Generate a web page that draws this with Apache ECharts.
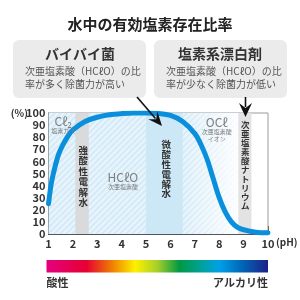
<!DOCTYPE html>
<html><head><meta charset="utf-8">
<script src="https://cdn.jsdelivr.net/npm/echarts@6/dist/echarts.min.js"></script>
<style>html,body{margin:0;padding:0;background:#fff}#c{width:300px;height:300px}</style>
</head><body><div id="c"></div>
<script>
// ---- data ----
const phValues = [1,1.1,1.2,1.4,1.6,1.8,2,2.5,3,3.5,4,4.5,5,5.5,6,6.5,7,7.25,7.5,7.75,8,8.25,8.5,8.75,9,9.5,10];
const hcloRatio = [25,40,50,65,74,81,86,93,96.5,98.5,99.5,100,100,99.5,98,93,83,74,62,46,30,18,10,5.5,3.5,1.5,1];
const xTicks = [1,2,3,4,5,6,7,8,9,10];
const yTicks = [0,10,20,30,40,50,60,70,80,90,100];
const hatchRange = [1, 6.5, 9];           // full hatch to 6.5, fades out by 9
const strongAcidBand = [2.1, 2.65];
const weakAcidBand = [5.0, 6.5];
const sodiumBand = [8.78, 9.32];
const title = '水中の有効塩素存在比率';
const leftBox = ['バイバイ菌', '次亜塩素酸（HCℓO）の比', '率が多く除菌力が高い'];
const rightBox = ['塩素系漂白剤', '次亜塩素酸（HCℓO）の比', '率が少なく除菌力が低い'];
const speciesLabels = [
  {main:'Cℓ₂', sub:['塩素ガス'], ph:1.6, pct:93},
  {main:'HCℓO', sub:['次亜塩素酸'], ph:4.05, pct:47},
  {main:'OCℓ', sub:['次亜塩素酸','イオン'], ph:7.9, pct:92}
];
const verticalLabels = [
  {text:'強酸性電解水', ph:2.42, pct:73.5},
  {text:'微酸性電解水', ph:5.83, pct:77.7},
  {text:'次亜塩素酸ナトリウム', ph:9.07, pct:94.2}
];
const verticalFont = [[9.5, 10.5], [9.5, 9.8], [8.5, 9]];
const scaleEnds = ['酸性', 'アルカリ性'];

const FONT = '"Noto Sans CJK JP", "Noto Sans", sans-serif';

function makeHatch(){
  const c=document.createElement('canvas'); c.width=6; c.height=6;
  const g=c.getContext('2d');
  g.fillStyle='#e8f4fb'; g.fillRect(0,0,6,6);
  g.strokeStyle='#d2e9f7'; g.lineWidth=1.7; g.beginPath();
  g.moveTo(-1,7); g.lineTo(7,-1);
  g.moveTo(-1,1); g.lineTo(1,-1);
  g.moveTo(5,7); g.lineTo(7,5);
  g.stroke(); return c;
}
const hatch = makeHatch();

const chart = echarts.init(document.getElementById('c'), null, {renderer:'canvas'});
const lineData = phValues.map((p,i)=>[p, hcloRatio[i]]);

chart.setOption({
  animation:false,
  textStyle:{fontFamily:FONT},
  grid:{left:48.5, right:32, top:113, bottom:66, show:true, borderColor:'#9a9a9a', borderWidth:1, backgroundColor:'transparent'},
  xAxis:{type:'value', min:1, max:10, interval:1,
    axisLine:{show:true, lineStyle:{color:'#555', width:1}},
    axisTick:{show:true, inside:true, length:8, lineStyle:{color:'#666', width:1}},
    splitLine:{show:false},
    axisLabel:{color:'#333', fontSize:11, fontWeight:'bold', margin:4, fontFamily:FONT,
      customValues: xTicks, showMinLabel:true, showMaxLabel:true}
  },
  yAxis:{type:'value', min:0, max:100, interval:10,
    axisLine:{show:true, lineStyle:{color:'#555', width:1}},
    axisTick:{show:false}, splitLine:{show:false},
    axisLabel:{color:'#333', fontSize:11, fontWeight:'bold', margin:3, fontFamily:FONT}
  },
  series:[
    {type:'line', data:[], z:1, silent:true,
      markArea:{silent:true, itemStyle:{color:{image:hatch, repeat:'repeat'}},
        data:[[{xAxis:hatchRange[0], yAxis:0},{xAxis:hatchRange[2], yAxis:100}]]}},
    {type:'line', data:[], z:2, silent:true,
      markArea:{silent:true,
        itemStyle:{color:{type:'linear',x:0,y:0,x2:1,y2:0,colorStops:[{offset:0,color:'rgba(255,255,255,0)'},{offset:1,color:'rgba(255,255,255,1)'}]}},
        data:[[{xAxis:hatchRange[1], yAxis:0},{xAxis:hatchRange[2], yAxis:100}]]}},
    {type:'line', data:[], z:3, silent:true,
      markArea:{silent:true,
        data:[
          [{xAxis:strongAcidBand[0], yAxis:0, itemStyle:{color:'#d9dadc'}},{xAxis:strongAcidBand[1], yAxis:100}],
          [{xAxis:weakAcidBand[0], yAxis:0, itemStyle:{color:'#cce8f7'}},{xAxis:weakAcidBand[1], yAxis:100}],
          [{xAxis:sodiumBand[0], yAxis:0, itemStyle:{color:'#e3e3e3'}},{xAxis:sodiumBand[1], yAxis:100}]
        ]}},
    {type:'line', data:lineData, z:10, smooth:0.35, symbol:'none', silent:true,
      lineStyle:{color:'#0a8fdc', width:5, cap:'round', join:'round'}}
  ]
});

// ---- annotations ----
const g = [];
g.push({type:'text', left:'center', top:17, style:{text:title, font:'bold 15px '+FONT, fill:'#222'}});
function box(x, y, w, h, lines, titleCx){
  g.push({type:'rect', shape:{x:x, y:y, width:w, height:h, r:6}, style:{fill:'#ebebeb'}});
  g.push({type:'text', x:titleCx, y:y+7, style:{text:lines[0], font:'bold 14px '+FONT, fill:'#333', align:'center'}});
  g.push({type:'text', x:x+12, y:y+25, style:{text:lines[1]+'\n'+lines[2], font:'10px '+FONT, fill:'#555', lineHeight:13}});
}
box(13, 40, 133, 58, leftBox, 80);
box(154, 40, 133, 58, rightBox, 220);

speciesLabels.forEach(l=>{
  const p = chart.convertToPixel({gridIndex:0}, [l.ph, l.pct]);
  g.push({type:'text', x:p[0], y:p[1], z:20, style:{text:l.main, font:'12px '+FONT, fill:'#7d7d7d', align:'center', verticalAlign:'middle'}});
  g.push({type:'text', x:p[0], y:p[1]+6, z:20, style:{text:l.sub.join('\n'), font:'6px '+FONT, fill:'#7d7d7d', align:'center', verticalAlign:'top', lineHeight:7}});
});
verticalLabels.forEach((l,i)=>{
  const p = chart.convertToPixel({gridIndex:0}, [l.ph, l.pct]);
  const f = verticalFont[i];
  g.push({type:'text', x:p[0], y:p[1], z:20, style:{text:l.text.split('').join('\n'), font:'bold '+f[0]+'px '+FONT, fill:'#333', align:'center', verticalAlign:'top', lineHeight:f[1]}});
});

// axis unit labels
const top100 = chart.convertToPixel({gridIndex:0}, [1, 100]);
const end10 = chart.convertToPixel({gridIndex:0}, [10, 0]);
g.push({type:'text', x:28, y:top100[1], style:{text:'(%)', font:'bold 10px '+FONT, fill:'#333', align:'right', verticalAlign:'middle'}});
g.push({type:'text', x:end10[0]+8, y:end10[1]+8, style:{text:'(pH)', font:'bold 10px '+FONT, fill:'#333', align:'left', verticalAlign:'middle'}});

// arrows
function arrow(x1,y1,x2,y2,hl,hw){
  const dx=x2-x1, dy=y2-y1, L=Math.hypot(dx,dy), ux=dx/L, uy=dy/L;
  const bx=x2-ux*hl, by=y2-uy*hl;
  g.push({type:'line', z:30, shape:{x1:x1,y1:y1,x2:bx+ux*2,y2:by+uy*2}, style:{stroke:'#111', lineWidth:1.6}});
  g.push({type:'polygon', z:30, shape:{points:[[x2,y2],[bx-uy*hw+ux*(-2),by+ux*hw+uy*(-2)],[bx+ux*3,by+uy*3],[bx+uy*hw-ux*2,by-ux*hw-uy*2]]}, style:{fill:'#111'}});
}
arrow(137, 97, 162, 126, 12, 6);
arrow(245.5, 97, 245.5, 117, 12, 6.5);

// pH colour scale
g.push({type:'rect', shape:{x:46.5, y:260, width:221.5, height:12.5}, style:{fill:{type:'linear',x:0,y:0,x2:1,y2:0,colorStops:[
  {offset:0,color:'#e4007f'},{offset:0.18,color:'#e60033'},{offset:0.3,color:'#f08300'},{offset:0.4,color:'#fff000'},
  {offset:0.5,color:'#a6cf2a'},{offset:0.6,color:'#009944'},{offset:0.7,color:'#00a29a'},{offset:0.78,color:'#00a0e9'},
  {offset:0.88,color:'#0068b7'},{offset:1,color:'#1d2088'}]}}});
g.push({type:'text', x:46.5, y:283, style:{text:scaleEnds[0], font:'bold 11px '+FONT, fill:'#333', align:'left', verticalAlign:'middle'}});
g.push({type:'text', x:268, y:283, style:{text:scaleEnds[1], font:'bold 11px '+FONT, fill:'#333', align:'right', verticalAlign:'middle'}});

chart.setOption({graphic:{elements:g}});
</script></body></html>
